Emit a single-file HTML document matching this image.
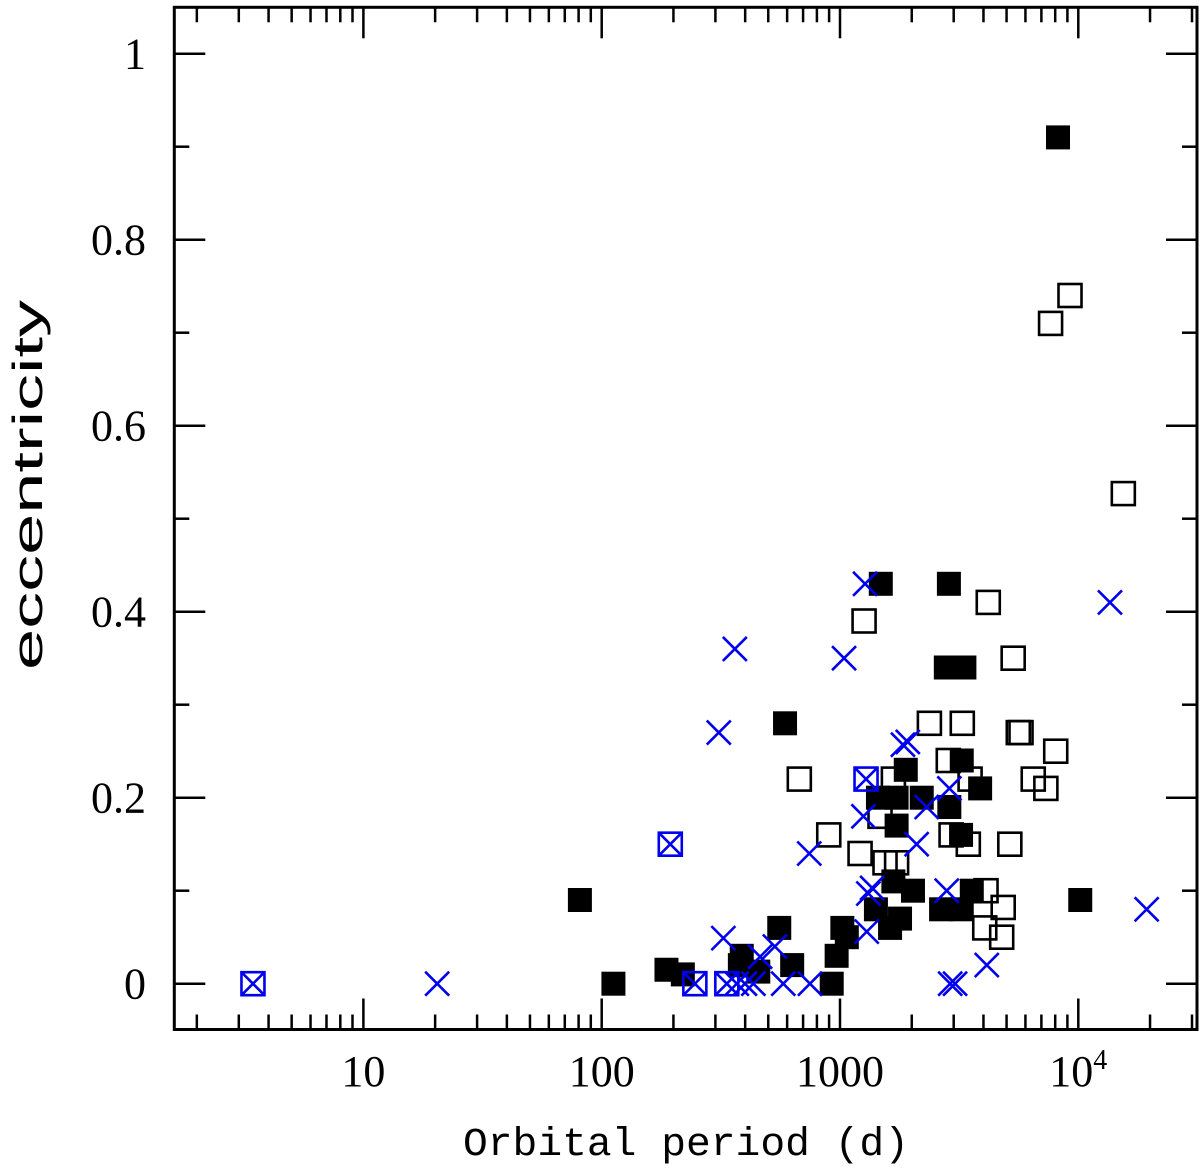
<!DOCTYPE html>
<html><head><meta charset="utf-8"><style>
html,body{margin:0;padding:0;background:#fff;}
svg{display:block;}
</style></head><body>
<svg id="chart" width="1200" height="1170" viewBox="0 0 1200 1170" xmlns="http://www.w3.org/2000/svg">
<g id="axes"></g>
<g id="marks"></g>
<text x="686" y="1155" font-family="Liberation Mono, monospace" font-size="40" text-anchor="middle" textLength="446" lengthAdjust="spacingAndGlyphs" fill="#000">Orbital period (d)</text>
<text transform="translate(42,485) rotate(-90)" font-family="Liberation Sans, sans-serif" font-size="42" text-anchor="middle" textLength="370" lengthAdjust="spacingAndGlyphs" fill="#000">eccentricity</text>
</svg>
<script>
// ---- data ----
const filledPeriod = [8220,1483,2864,588,2780,3327,1888,3243,3873,2876,2203,1443,1728,1728,3221,1675,2024,3573,2656,3243,1415,1786,1622,10190,81,112,187,219,387,380,454,556,630,923,968,1023,1068];
const filledEcc    = [0.91,0.43,0.43,0.28,0.34,0.34,0.23,0.24,0.21,0.19,0.20,0.20,0.20,0.17,0.16,0.11,0.10,0.10,0.08,0.08,0.08,0.07,0.06,0.09,0.09,0,0.015,0.01,0.03,0.02,0.013,0.06,0.02,0,0.03,0.06,0.05];
const openPeriod = [9230,7650,15450,1262,4190,5330,2372,3260,5600,5750,8040,2847,6470,7310,3515,675,1675,5160,3455,2925,897,1214,1545,1728,1472,4100,4840,4050,4770];
const openEcc    = [0.74,0.71,0.527,0.39,0.41,0.35,0.28,0.28,0.27,0.27,0.25,0.24,0.22,0.21,0.22,0.22,0.22,0.15,0.15,0.16,0.16,0.14,0.13,0.13,0.18,0.10,0.082,0.06,0.05];
const boxXPeriod = [3.44,194,1286,246,335];
const boxXEcc    = [0,0.15,0.22,0,0];
const crossPeriod = [20.4,362,1040,310,1274,1925,1837,743,1254,2097,1315,1295,324,533,462,578,748,433,369,2311,13580,2877,2805,19360,4130,3040,2900,1364,399];
const crossEcc    = [0,0.36,0.35,0.27,0.43,0.26,0.257,0.14,0.18,0.15,0.097,0.056,0.049,0.04,0.029,0,0,0,0,0.19,0.41,0.21,0.10,0.08,0.02,0,0,0.103,0];
const yTicks = [0,0.2,0.4,0.6,0.8,1];
const yTickLabels = ["0","0.2","0.4","0.6","0.8","1"];
const xTicks = [10,100,1000,10000];
const xTickLabels = ["10","100","1000","10⁴"];

// ---- scales ----
const L=174.3,R=1197,T=7.3,B=1029.5;
const xs = p => 363.4 + (Math.log10(p)-1)*238.3;
const ys = e => 983.7 - e*930;
const NS="http://www.w3.org/2000/svg";
function mk(tag, attrs, parent){const el=document.createElementNS(NS,tag);for(const k in attrs)el.setAttribute(k,attrs[k]);parent.appendChild(el);return el;}
const axes=document.getElementById('axes'), marks=document.getElementById('marks');

const frame = mk('rect',{x:L,y:T,width:R-L,height:B-T,fill:'none',stroke:'#000','stroke-width':3},axes);



for(let v=0; v<=1.0001; v+=0.1){
  const major=Math.abs(v*5-Math.round(v*5))<1e-6, len=major?31:15, y=ys(v);
  const t1=mk('line',{x1:L,x2:L+len,y1:y,y2:y,stroke:'#000','stroke-width':2.5},axes);
  
  
  const t2=mk('line',{x1:R-len,x2:R,y1:y,y2:y,stroke:'#000','stroke-width':2.5},axes);
  
  
}
yTicks.forEach((v,i)=>{
  const t=mk('text',{x:146,y:ys(v)+15,'text-anchor':'end','font-family':'Liberation Serif, serif','font-size':44,fill:'#000'},axes);
  t.textContent=yTickLabels[i];
  
  
});
for(let d=0; d<=4; d++){
  for(let m=1;m<=9;m++){
    const p=m*Math.pow(10,d), x=xs(p);
    if(x<L+1||x>R-1) continue;
    const len=m===1?31:15;
    const a=mk('line',{x1:x,x2:x,y1:B,y2:B-len,stroke:'#000','stroke-width':2.5},axes);
    
    
    const b=mk('line',{x1:x,x2:x,y1:T,y2:T+len,stroke:'#000','stroke-width':2.5},axes);
    
    
  }
}
xTicks.forEach((p,i)=>{
  const lab=xTickLabels[i];
  let x=xs(p);
  const t=mk('text',{x:x,y:1086,'text-anchor':'middle','font-family':'Liberation Serif, serif','font-size':44,fill:'#000'},axes);
  if(lab==="10⁴"){
    t.textContent="10";
    const s=mk('tspan',{dy:-17,'font-size':28},t);
    s.textContent="4";
  } else t.textContent=lab;
  
  
});

filledPeriod.forEach((p,i)=>{
  const x=xs(p),y=ys(filledEcc[i]);
  const r=mk('rect',{x:x-12,y:y-12,width:24,height:24,fill:'#000'},marks);
  
  
});
openPeriod.forEach((p,i)=>{
  const x=xs(p),y=ys(openEcc[i]);
  const r=mk('rect',{x:x-11.5,y:y-11.5,width:23,height:23,fill:'none',stroke:'#000','stroke-width':2.6},marks);
  
  
});
crossPeriod.forEach((p,i)=>{
  const x=xs(p),y=ys(crossEcc[i]);
  const g=mk('path',{d:`M${x-12},${y-12}L${x+12},${y+12}M${x-12},${y+12}L${x+12},${y-12}`,stroke:'#0000ee','stroke-width':2.6,fill:'none'},marks);
  
  
});
boxXPeriod.forEach((p,i)=>{
  const x=xs(p),y=ys(boxXEcc[i]);
  const g=mk('path',{d:`M${x-11.5},${y-11.5}h23v23h-23zM${x-11.5},${y-11.5}L${x+11.5},${y+11.5}M${x-11.5},${y+11.5}L${x+11.5},${y-11.5}`,stroke:'#0000ee','stroke-width':2.6,fill:'none'},marks);
  
  
});
</script>
</body></html>
